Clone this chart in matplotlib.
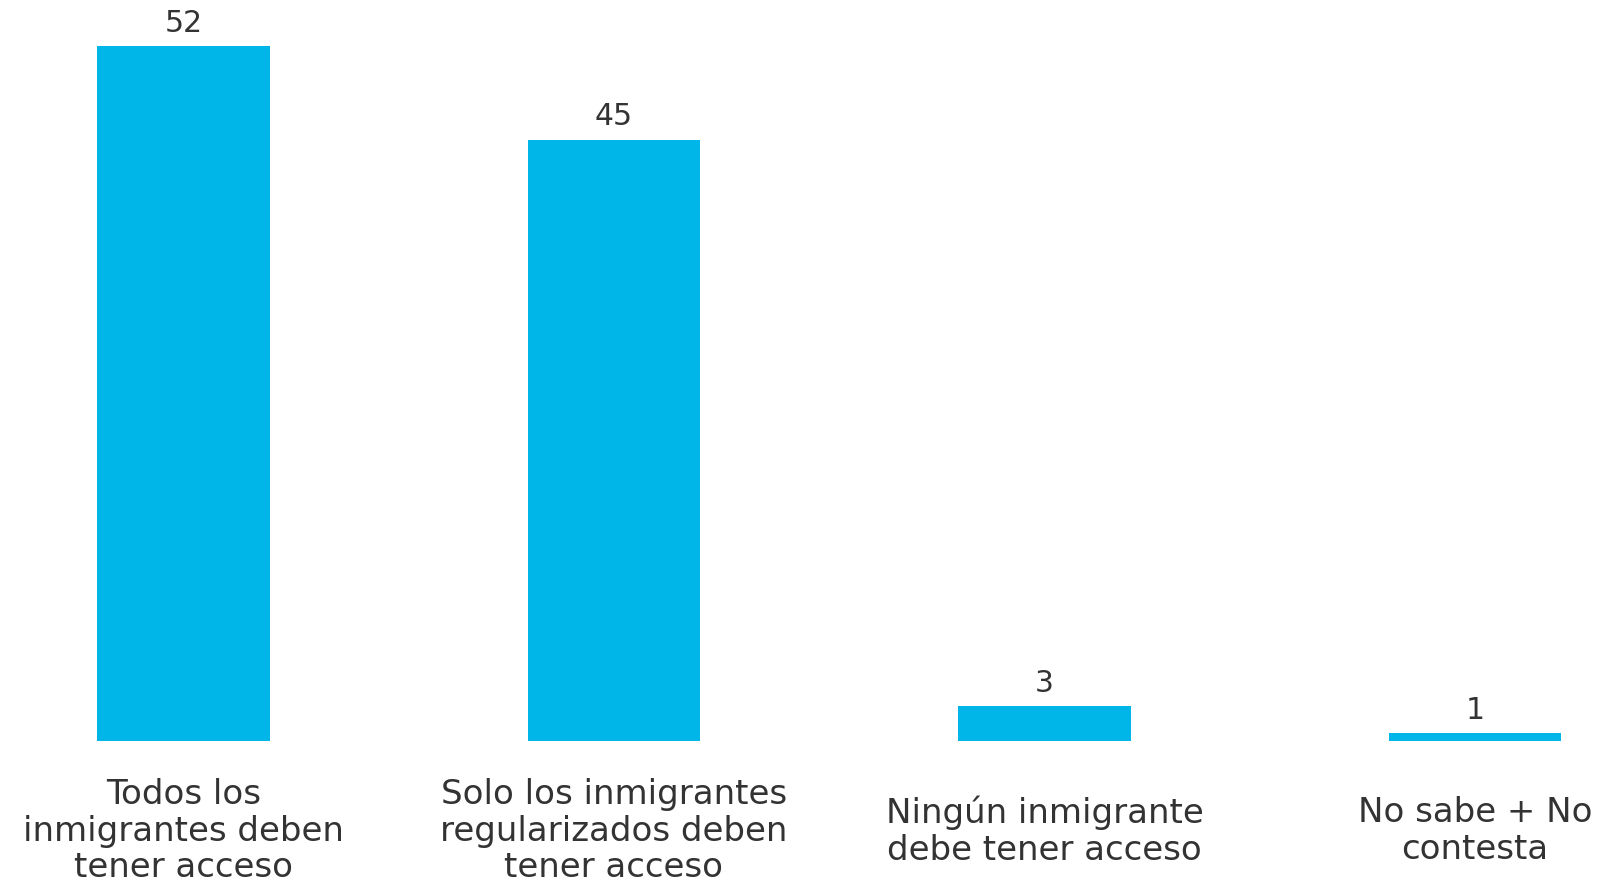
import matplotlib
matplotlib.use("Agg")
import matplotlib.pyplot as plt
from matplotlib import transforms

categories = [
    "Todos los\ninmigrantes deben\ntener acceso",
    "Solo los inmigrantes\nregularizados deben\ntener acceso",
    "Ningún inmigrante\ndebe tener acceso",
    "No sabe + No\ncontesta",
]
values = [52, 45, 2.6, 0.6]
value_labels = ["52", "45", "3", "1"]

plt.rcParams['font.family'] = ['DejaVu Sans']

W, H = 1614, 886
fig = plt.figure(figsize=(W / 100, H / 100), dpi=100)
ax_bottom = (H - 741) / H
unit_px = 13.36
ymax = 55
ax = fig.add_axes([0, ax_bottom, 1, ymax * unit_px / H])
px_per_x = 430.5
left0 = 183.5
ax.set_xlim(-left0 / px_per_x, (W - left0) / px_per_x)
ax.set_ylim(0, ymax)

xs = list(range(len(categories)))
ax.bar(xs, values, width=0.4, color="#00B6E8", edgecolor="none")

for x, v, lab in zip(xs, values, value_labels):
    ax.annotate(lab, (x, v), xytext=(0, 6), textcoords="offset points",
                ha="center", va="bottom", fontsize=21.5, color="#333333",
                clip_on=False)

trans = transforms.blended_transform_factory(ax.transData, fig.transFigure)
label_center = (H - 831) / H
for x, cat in zip(xs, categories):
    ax.text(x, label_center, cat, transform=trans, ha="center", va="center",
            multialignment="center", fontsize=24.5, color="#333333",
            linespacing=1.15, clip_on=False)

for s in ax.spines.values():
    s.set_visible(False)
ax.set_xticks([])
ax.set_yticks([])

fig.savefig("out.png", dpi=100, facecolor="white")
